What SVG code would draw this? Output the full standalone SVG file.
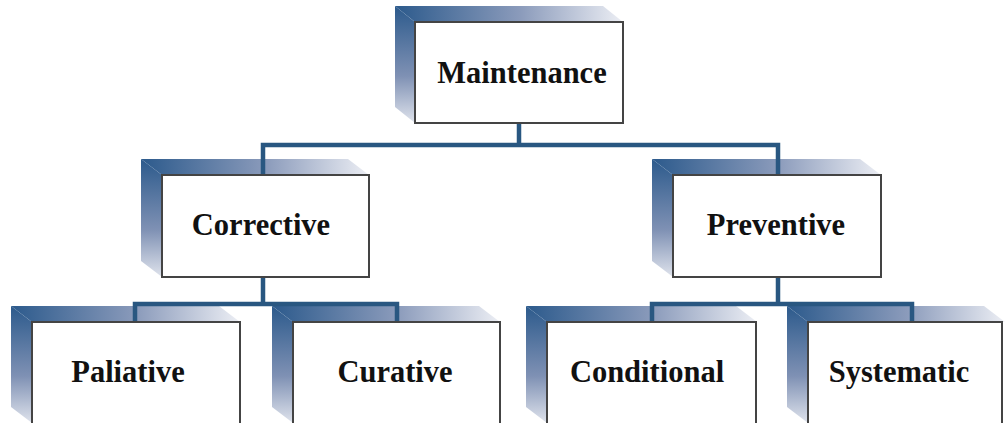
<svg xmlns="http://www.w3.org/2000/svg" width="1005" height="423" viewBox="0 0 1005 423">
<defs>
<linearGradient id="gTop" x1="0" y1="0" x2="1" y2="0">
<stop offset="0" stop-color="#2c5a8c"/>
<stop offset="0.55" stop-color="#8b9bbb"/>
<stop offset="1" stop-color="#eceef4"/>
</linearGradient>
<linearGradient id="gLeft" x1="0" y1="0" x2="0" y2="1">
<stop offset="0" stop-color="#2c5a8c"/>
<stop offset="0.6" stop-color="#7f91b4"/>
<stop offset="1" stop-color="#dfe3ec"/>
</linearGradient>
<style>
.top{fill:url(#gTop)}
.left{fill:url(#gLeft)}
.box{fill:#ffffff;stroke:#444444;stroke-width:2}
.lbl{font-family:"Liberation Serif","Times New Roman",serif;font-weight:bold;font-size:30.5px;fill:#111111;text-anchor:middle}
.conn{fill:none;stroke:#295781;stroke-width:4.5;stroke-linejoin:miter}
</style>
</defs>
<rect width="1005" height="423" fill="#ffffff"/>

<g id="shadows">
<polygon class="top" points="395,6 603,6 623,22 415,22"/>
<polygon class="left" points="395,6 415,22 415,123 395,107"/>
<polygon class="top" points="141,159 348,159 369,175 162,175"/>
<polygon class="left" points="141,159 162,175 162,277 141,261"/>
<polygon class="top" points="652,159 860,159 881,175 673,175"/>
<polygon class="left" points="652,159 673,175 673,277 652,261"/>
<polygon class="top" points="11,306 219,306 240,322 32,322"/>
<polygon class="left" points="11,306 32,322 32,423 11,407"/>
<polygon class="top" points="272,306 479,306 500,322 293,322"/>
<polygon class="left" points="272,306 293,322 293,423 272,407"/>
<polygon class="top" points="526,306 736,306 757,322 547,322"/>
<polygon class="left" points="526,306 547,322 547,423 526,407"/>
<polygon class="top" points="787,306 984,306 1005,322 808,322"/>
<polygon class="left" points="787,306 808,322 808,423 787,407"/>
</g>

<g id="connectors">
<path class="conn" d="M519,123 V145 M263,175 V145 H778 V175"/>
<path class="conn" d="M263,277 V304 M135,322 V304 H397 V322"/>
<path class="conn" d="M778,277 V304 M652,322 V304 H912 V322"/>
</g>

<g id="maintenance">
<rect class="box" x="415" y="22" width="208" height="101"/>
<text class="lbl" x="522" y="83">Maintenance</text>
</g>
<g id="corrective">
<rect class="box" x="162" y="175" width="207" height="102"/>
<text class="lbl" x="261" y="235">Corrective</text>
</g>
<g id="preventive">
<rect class="box" x="673" y="175" width="208" height="102"/>
<text class="lbl" x="776" y="235">Preventive</text>
</g>
<g id="paliative">
<rect class="box" x="32" y="322" width="208" height="102"/>
<text class="lbl" x="128" y="382">Paliative</text>
</g>
<g id="curative">
<rect class="box" x="293" y="322" width="207" height="102"/>
<text class="lbl" x="395" y="382">Curative</text>
</g>
<g id="conditional">
<rect class="box" x="547" y="322" width="209" height="102"/>
<text class="lbl" x="647" y="382">Conditional</text>
</g>
<g id="systematic">
<rect class="box" x="808" y="322" width="194" height="102"/>
<text class="lbl" x="899" y="382">Systematic</text>
</g>
</svg>
